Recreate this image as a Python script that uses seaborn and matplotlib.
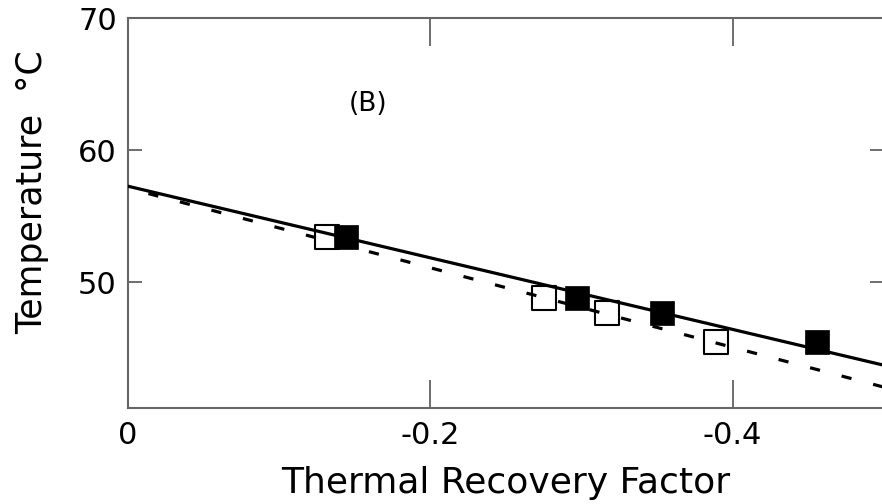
import numpy as np
import pandas as pd
import matplotlib
matplotlib.use("Agg")
import matplotlib.pyplot as plt
import seaborn as sns

# Data
filled_x = [-0.144, -0.297, -0.353, -0.456]
filled_y = [53.4, 48.8, 47.65, 45.5]
open_x = [-0.132, -0.275, -0.317, -0.389]
open_y = [53.4, 48.8, 47.65, 45.45]
fit_x = [0.0, -0.5]
solid_fit_y = [57.27, 43.71]
dashed_fit_y = [57.12, 42.05]
x_ticks = [0, -0.2, -0.4]
x_tick_labels = ["0", "-0.2", "-0.4"]
y_ticks = [50, 60, 70]
y_tick_labels = ["50", "60", "70"]

sns.set_style("ticks")
plt.rcParams['font.family'] = ['DejaVu Sans']
plt.rcParams['text.color'] = 'black'
plt.rcParams['axes.labelcolor'] = 'black'
plt.rcParams['xtick.labelcolor'] = 'black'
plt.rcParams['ytick.labelcolor'] = 'black'

fig = plt.figure(figsize=(8.82, 5.04), dpi=100)
ax = fig.add_axes([0.145, 0.19, 0.857, 0.774])

df_open = pd.DataFrame({"x": open_x, "y": open_y})
df_filled = pd.DataFrame({"x": filled_x, "y": filled_y})
df_solid = pd.DataFrame({"x": fit_x, "y": solid_fit_y})
df_dash = pd.DataFrame({"x": fit_x, "y": dashed_fit_y})

sns.scatterplot(data=df_open, x="x", y="y", ax=ax, marker="s", s=290,
                facecolor="white", edgecolor="black", linewidth=1.5, zorder=2)
sns.lineplot(data=df_solid, x="x", y="y", ax=ax, color="black", linewidth=2.3, zorder=3)
sns.lineplot(data=df_dash, x="x", y="y", ax=ax, color="black", linewidth=2.3,
             zorder=3)
ax.lines[-1].set_dashes([3.2, 7.0])
sns.scatterplot(data=df_filled, x="x", y="y", ax=ax, marker="s", s=320,
                color="black", edgecolor="black", linewidth=0.5, zorder=4)

ax.set_xlim(0, -0.5)
ax.set_ylim(40.45, 70)
ax.set_xticks(x_ticks)
ax.set_xticklabels(x_tick_labels)
ax.set_yticks(y_ticks)
ax.set_yticklabels(y_tick_labels)

ax.tick_params(axis="x", direction="in", length=20, width=1.2, color="#555555",
               top=True, bottom=True, labelsize=22, pad=9)
ax.tick_params(axis="y", direction="in", length=10, width=1.2, color="#555555",
               left=True, right=True, labelsize=22, pad=8)

for side in ["left", "bottom", "top", "right"]:
    ax.spines[side].set_color("#666666")
    ax.spines[side].set_linewidth(1.5)

ax.set_xlabel("Thermal Recovery Factor", fontsize=26, labelpad=12)
ax.set_ylabel("Temperature  \u00b0C", fontsize=25)
ax.yaxis.set_label_coords(-0.104, 0.555)

ax.text(-0.159, 63.5, "(B)", fontsize=19, ha="center", va="center")

fig.savefig("out.png", dpi=100)
